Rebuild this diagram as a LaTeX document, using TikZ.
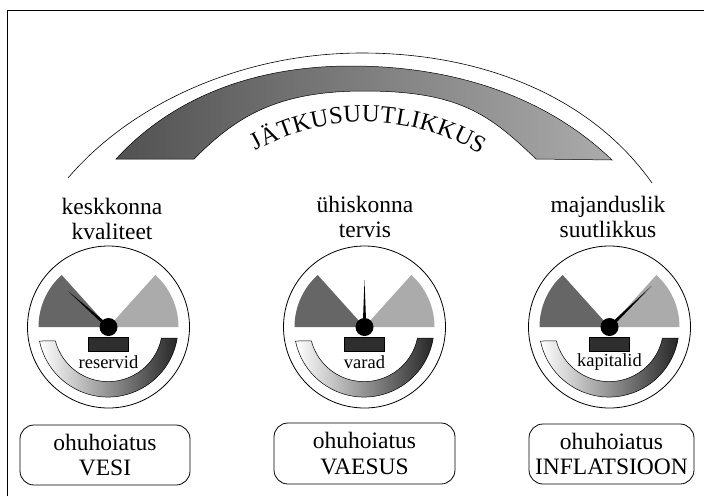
\documentclass[tikz,border=0pt]{standalone}
\usepackage{fontspec}
\setmainfont{Liberation Serif}
\usetikzlibrary{decorations.text,calc}
\tikzset{
  x=1pt,y=-1pt,
  lbl/.style={align=center,font=\fontsize{23.5}{25.5}\selectfont,inner sep=0pt},
  alertbox/.style={draw=black,line width=.8pt,rounded corners=14pt,align=center,inner sep=0pt,
    font=\fontsize{23.5}{25.5}\selectfont},
  dial/.style={draw=black,line width=.8pt,fill=white},
}
\newcommand{\gauge}[5]{% cx, needle tip x, needle tip y, label, name
  \begin{scope}[shift={(#1,327)}]
    \node[circle,dial,minimum size=162pt,inner sep=0pt] (#5dial) at (0,0) {};
    \fill[black!60!white] (0,0) -- (-70,0) arc[start angle=180,end angle=132,radius=70pt] -- cycle;
    \fill[black!33!white] (0,0) -- (70,0) arc[start angle=0,end angle=48,radius=70pt] -- cycle;
    \shade[left color=white,right color=black!85,draw=black,line width=.5pt]
      (-69,14) arc[start angle=191.5,end angle=351,radius=70pt]
      -- (53,11) arc[start angle=348.5,end angle=194.7,radius=54.5pt] -- cycle;
    \node[draw=black,fill=black!82,minimum width=40pt,minimum height=14pt,inner sep=0pt,line width=.4pt] (#5bar) at (0,17.5) {};
    \node[font=\fontsize{18.5}{20}\selectfont,inner sep=0pt] (#5lab) at (0,35) {#4};
    \coordinate (#5tip) at (#2,#3);
    \coordinate (#5ctr) at (0,0);
    \fill[black] (#5tip) -- ($(#5ctr)!1.8pt!90:(#5tip)$) -- ($(#5ctr)!1.8pt!-90:(#5tip)$) -- cycle;
    \node[circle,fill=black,minimum size=18pt,inner sep=0pt] (#5hub) at (0,0) {};
  \end{scope}
}
\begin{document}
\begin{tikzpicture}
\useasboundingbox (0,0) rectangle (704,496);
\draw[black,line width=.9pt] (7,496) -- (7,10) -- (704,10);
\coordinate (arcL) at (68,178);
\coordinate (arcT) at (362,53);
\coordinate (arcR) at (652,183);
\draw[line width=.6pt] (arcL) .. controls (130,105) and (240,53) .. (arcT) .. controls (480,53) and (590,95) .. (arcR);
\shade[left color=black!68,right color=black!33,draw=black,line width=.5pt]
  (116,159) .. controls (170,100) and (250,66) .. (351,66)
  .. controls (460,66) and (550,100) .. (612,160) -- (536,159)
  .. controls (490,115) and (460,91) .. (364,91)
  .. controls (275,91) and (235,118) .. (194,159) -- cycle;
\path[decorate,decoration={text along path,text align={fit to path},
   text={|\fontsize{24.5}{26}\selectfont|JÄTKUSUUTLIKKUS}}]
   (255.8,150.9) arc[start angle=119.6,end angle=58.5,radius=221pt];
\node[lbl] (t1) at (112,219) {keskkonna\\kvaliteet};
\node[lbl] (t2) at (365,217) {ühiskonna\\tervis};
\node[lbl] (t3) at (608,217) {majanduslik\\suutlikkus};
\gauge{108.5}{-40.5}{-36}{reservid}{a}
\gauge{364.5}{0}{-47}{varad}{b}
\gauge{609.5}{42}{-41}{kapitalid}{c}
\node[alertbox,minimum width=170pt,minimum height=60pt] (w1) at (105,455) {ohuhoiatus\\VESI};
\node[alertbox,minimum width=181pt,minimum height=61pt] (w2) at (364.5,453.5) {ohuhoiatus\\VAESUS};
\node[alertbox,minimum width=165pt,minimum height=60pt] (w3) at (611.5,454) {ohuhoiatus\\INFLATSIOON};
\end{tikzpicture}
\end{document}
